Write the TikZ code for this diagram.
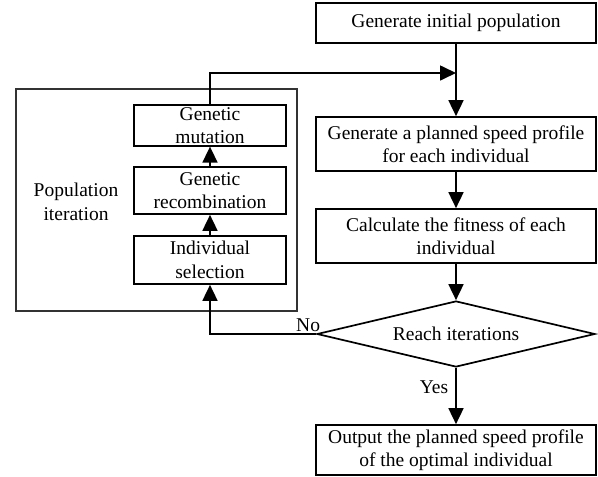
\documentclass[tikz,border=0pt]{standalone}
\usepackage{fontspec}
\setmainfont{Liberation Serif}
\usepackage{tikz}
\usetikzlibrary{shapes.geometric,arrows.meta,positioning,calc}

\begin{document}
\begin{tikzpicture}[
    x=1pt, y=-1pt,
    stepbox/.style={
        rectangle,
        draw=black,
        line width=1.7pt,
        minimum width=280pt,
        align=center,
        inner sep=2pt,
        font=\fontsize{19.5}{23.5}\selectfont
    },
    iterbox/.style={
        stepbox,
        minimum width=152pt
    },
    decision/.style={
        diamond,
        draw=black,
        line width=1.7pt,
        aspect=4.2,
        inner sep=0pt,
        minimum width=278pt,
        minimum height=66pt,
        font=\fontsize{19.5}{23.5}\selectfont
    },
    frame/.style={
        rectangle,
        draw=black!80,
        line width=1.2pt,
        minimum width=281pt,
        minimum height=222pt
    },
    arrow/.style={
        -{Triangle[length=16pt,width=15pt]},
        line width=1.7pt
    },
    tag/.style={
        font=\fontsize{19.5}{23.5}\selectfont,
        inner sep=1pt
    }
]
\useasboundingbox (0,0) rectangle (598,477);

% Main flow
\node[stepbox, minimum height=40pt] (init) at (456,23) {Generate initial population};
\coordinate (merge) at (456,73);
\node[stepbox, minimum height=54pt] (speed) at (456,144) {Generate a planned speed profile\\for each individual};
\node[stepbox, minimum height=54pt] (fitness) at (456,236) {Calculate the fitness of each\\individual};
\node[decision] (reach) at (456,334) {Reach iterations};
\node[stepbox, minimum height=50pt] (output) at (456,450) {Output the planned speed profile\\of the optimal individual};

% Population iteration
\node[frame] (iterframe) at (156.5,200) {};
\node[tag, align=center] (iterlabel) at (76,202) {Population\\iteration};
\node[iterbox, minimum height=39pt] (mutation) at (210,125.5) {Genetic\\mutation};
\node[iterbox, minimum height=47pt] (recomb) at (210,190.5) {Genetic\\recombination};
\node[iterbox, minimum height=48pt] (select) at (210,260) {Individual\\selection};

% Connections
\draw[arrow] (init) -- (speed);
\draw[arrow] (speed) -- (fitness);
\draw[arrow] (fitness) -- (reach);
\draw[arrow] (reach) -- node[tag, left, pos=0.35, xshift=-6pt] {Yes} (output);
\draw[arrow] (reach.west) -| node[tag, above, pos=0, xshift=-8pt] {No} (select.south);
\draw[arrow] (select) -- (recomb);
\draw[arrow] (recomb) -- (mutation);
\draw[arrow] (mutation.north) |- (merge);

\end{tikzpicture}
\end{document}
